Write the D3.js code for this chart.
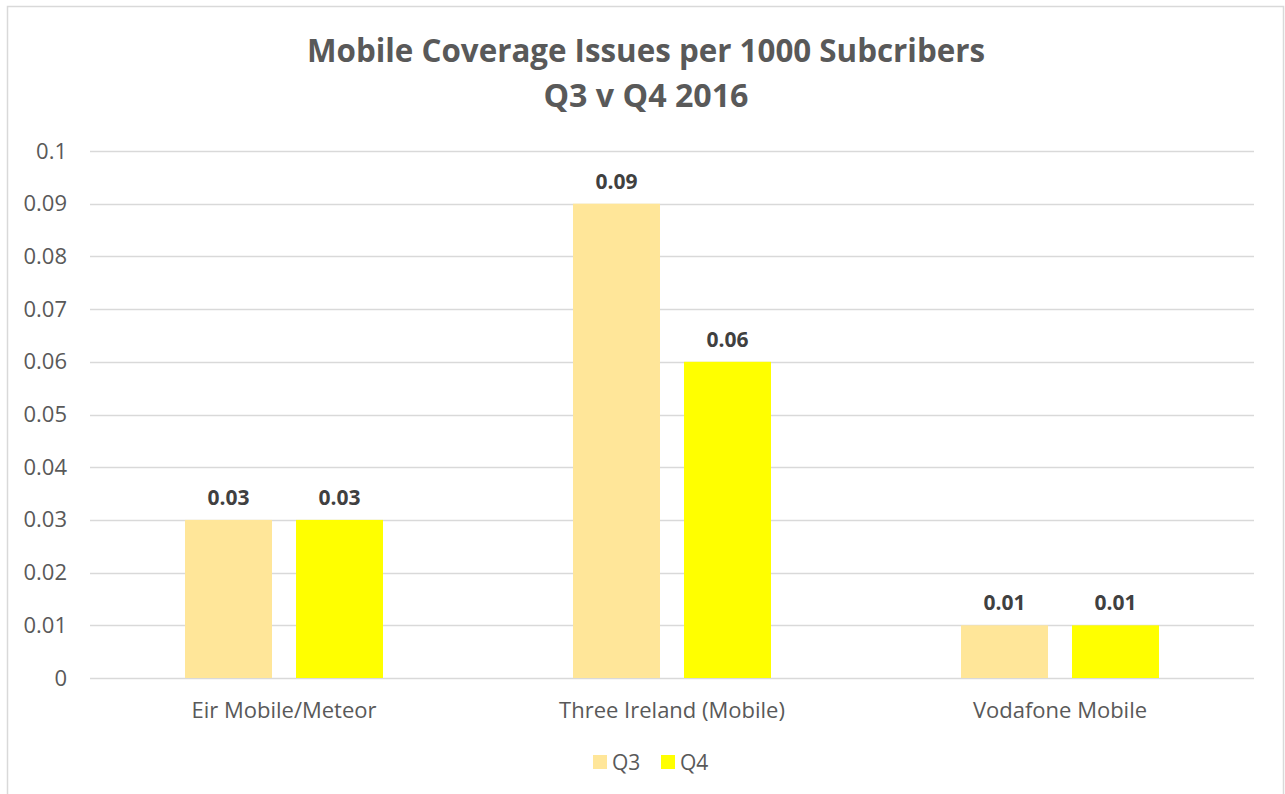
<!DOCTYPE html>
<html><head><meta charset="utf-8">
<script src="https://cdn.jsdelivr.net/npm/d3@7"></script>
<style>body{margin:0;background:#fff}svg{display:block}</style>
</head><body><svg id="c" width="1285" height="794"></svg>
<script>
const categories = ["Eir Mobile/Meteor", "Three Ireland (Mobile)", "Vodafone Mobile"];
const seriesNames = ["Q3", "Q4"];
const q3Values = [0.03, 0.09, 0.01];
const q4Values = [0.03, 0.06, 0.01];
const tickValues = [0, 0.01, 0.02, 0.03, 0.04, 0.05, 0.06, 0.07, 0.08, 0.09, 0.1];
const tickLabels = ["0", "0.01", "0.02", "0.03", "0.04", "0.05", "0.06", "0.07", "0.08", "0.09", "0.1"];
const colors = ["#FFE699", "#FFFF00"];
const titleLines = ["Mobile Coverage Issues per 1000 Subcribers", "Q3 v Q4 2016"];

const svg = d3.select("#c");
const font = "'Open Sans', sans-serif";
const textCol = "#595959";

svg.append("rect").attr("x", 7.5).attr("y", 6.5).attr("width", 1276).attr("height", 800)
  .attr("fill", "#fff").attr("stroke", "#d9d9d9").attr("stroke-width", 1.5);

const m = {left: 90, right: 1254, top: 151, bottom: 678};
const x0 = d3.scaleBand().domain(categories).range([m.left, m.right]).paddingInner(0).paddingOuter(0);
const y = d3.scaleLinear().domain([0, 0.1]).range([m.bottom, m.top]);
const x1 = d3.scaleBand().domain(seriesNames).range([0, 198]).paddingInner(24/111).paddingOuter(0);

// gridlines
svg.append("g").selectAll("line").data(tickValues).join("line")
  .attr("x1", m.left).attr("x2", m.right)
  .attr("y1", d => Math.round(y(d)) + 0.5).attr("y2", d => Math.round(y(d)) + 0.5)
  .attr("stroke", "#d9d9d9").attr("stroke-width", 1.3);

// y axis labels
const yAxis = d3.axisLeft(y).tickValues(tickValues).tickFormat((d, i) => tickLabels[i]).tickSize(0).tickPadding(0);
const ya = svg.append("g").attr("transform", `translate(67,0)`).call(yAxis);
ya.select(".domain").remove();
ya.selectAll("text").attr("font-family", font).attr("font-size", 22).attr("fill", textCol);

// bars
const data = categories.map((c, i) => ({cat: c, vals: [q3Values[i], q4Values[i]]}));
const groups = svg.append("g").selectAll("g").data(data).join("g")
  .attr("transform", d => `translate(${x0(d.cat) + x0.bandwidth()/2 - 99},0)`);
groups.selectAll("rect").data(d => d.vals.map((v, j) => ({s: seriesNames[j], v, j}))).join("rect")
  .attr("x", d => x1(d.s)).attr("width", x1.bandwidth())
  .attr("y", d => y(d.v)).attr("height", d => y(0) - y(d.v))
  .attr("fill", d => colors[d.j]);
groups.selectAll("text").data(d => d.vals.map((v, j) => ({s: seriesNames[j], v, j}))).join("text")
  .attr("x", d => x1(d.s) + x1.bandwidth()/2).attr("y", d => y(d.v) - 15)
  .attr("text-anchor", "middle").attr("font-family", font).attr("font-weight", "bold")
  .attr("font-size", 21).attr("fill", "#404040").text(d => d.v);

// x axis labels
const xAxis = d3.axisBottom(x0).tickSize(0).tickPadding(0);
const xa = svg.append("g").attr("transform", `translate(0,${m.bottom + 40})`).call(xAxis);
xa.select(".domain").remove();
xa.selectAll("text").attr("font-family", font).attr("font-size", 22).attr("fill", textCol).attr("dy", 0);

// title
svg.append("text").attr("x", 646).attr("y", 62).attr("text-anchor", "middle")
  .attr("font-family", font).attr("font-weight", "bold").attr("font-size", 33).attr("fill", textCol)
  .attr("textLength", 678).attr("lengthAdjust", "spacingAndGlyphs").text(titleLines[0]);
svg.append("text").attr("x", 646).attr("y", 107).attr("text-anchor", "middle")
  .attr("font-family", font).attr("font-weight", "bold").attr("font-size", 33).attr("fill", textCol)
  .attr("textLength", 205).attr("lengthAdjust", "spacingAndGlyphs").text(titleLines[1]);

// legend
const leg = svg.append("g").selectAll("g").data(seriesNames).join("g")
  .attr("transform", (d, i) => `translate(${593 + i * 68},755)`);
leg.append("rect").attr("width", 14).attr("height", 14).attr("fill", (d, i) => colors[i]);
leg.append("text").attr("x", 19).attr("y", 15).attr("font-family", font).attr("font-size", 21)
  .attr("fill", textCol).text(d => d);
</script></body></html>
